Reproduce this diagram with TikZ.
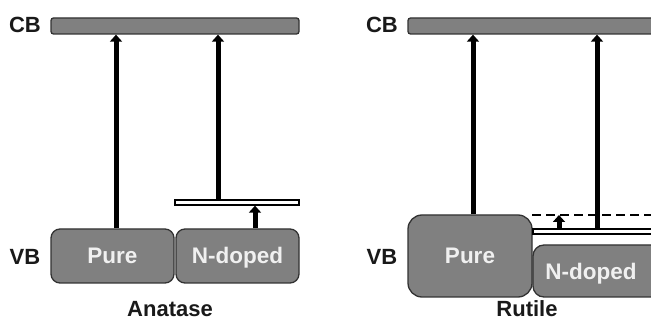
\documentclass[tikz,border=0pt]{standalone}
\usepackage{fontspec}
\setmainfont{Liberation Sans}
\usetikzlibrary{arrows.meta}
\definecolor{bandgray}{RGB}{128,128,128}
\definecolor{edgegray}{RGB}{50,50,50}
\begin{document}
\begin{tikzpicture}[x=1pt,y=-1pt,
  lbl/.style={font=\fontsize{22}{26}\selectfont\bfseries, text=black!90, inner sep=0pt, anchor=base},
  cbband/.style={draw=edgegray, fill=bandgray, line width=1.3pt, rounded corners=2.5pt, inner sep=0pt},
  vbbox/.style={draw=edgegray, fill=bandgray, line width=1.3pt, inner sep=0pt,
     font=\fontsize{22.5}{26}\selectfont\bfseries, text=white!94!black, text height=16pt, text depth=0pt},
  level/.style={draw=black, fill=white, line width=1.3pt, inner sep=0pt, minimum height=5pt},
  exc/.style={line width=5pt, -{Triangle[width=12pt,length=7pt]}},
  dashlvl/.style={line width=1.6pt, dash pattern=on 9pt off 5pt}]
\useasboundingbox (0,0) rectangle (651,320);
\clip (0,0) rectangle (651,320);

% ---------- Anatase ----------
\node[cbband, minimum width=248pt, minimum height=16pt] (cbL) at (175,26) {};
\node[vbbox, rounded corners=9pt, minimum width=123pt, minimum height=54pt] (pureL) at (112.5,256) {Pure};
\node[vbbox, rounded corners=9pt, minimum width=123pt, minimum height=54pt] (ndL) at (237.5,256) {N-doped};
\node[level, minimum width=124pt] (lvL) at (237,202.5) {};

\coordinate (xa) at (116,0);
\coordinate (xb) at (218,0);
\coordinate (xc) at (255,0);
\draw[exc] (pureL.north -| xa) -- (cbL.south -| xa);
\draw[exc] (lvL.north -| xb) -- (cbL.south -| xb);
\draw[exc] (ndL.north -| xc) -- (lvL.south -| xc);

\node[lbl] (cbtL) at (25,32.5) {CB};
\node[lbl] (vbtL) at (25,265) {VB};
\node[lbl] (anat) at (170,316.5) {Anatase};

% ---------- Rutile ----------
\node[cbband, minimum width=292pt, minimum height=16pt] (cbR) at (554,26) {};
\node[vbbox, rounded corners=14pt, minimum width=124pt, minimum height=82pt] (pureR) at (470,256) {Pure};
\node[vbbox, rounded corners=11pt, minimum width=167pt, minimum height=52pt] (ndR) at (616.5,271) {};
\node[lbl, font=\fontsize{22.5}{26}\selectfont\bfseries, text=white!94!black] (ndRt) at (591,280) {N-doped};
\node[level, minimum width=167pt] (lvR) at (616.5,231.5) {};
\coordinate (dashL) at (532,215);
\coordinate (dashR) at (651,215);
\draw[dashlvl] (dashL) -- (dashR);

\coordinate (xd) at (473,0);
\coordinate (xe) at (597,0);
\coordinate (xf) at (559,0);
\draw[exc] (pureR.north -| xd) -- (cbR.south -| xd);
\draw[exc] (lvR.north -| xe) -- (cbR.south -| xe);
\draw[exc] (lvR.north -| xf) -- (dashL -| xf);

\node[lbl] (cbtR) at (382,32.5) {CB};
\node[lbl] (vbtR) at (382,265) {VB};
\node[lbl] (rut) at (527,316.5) {Rutile};
\end{tikzpicture}
\end{document}
